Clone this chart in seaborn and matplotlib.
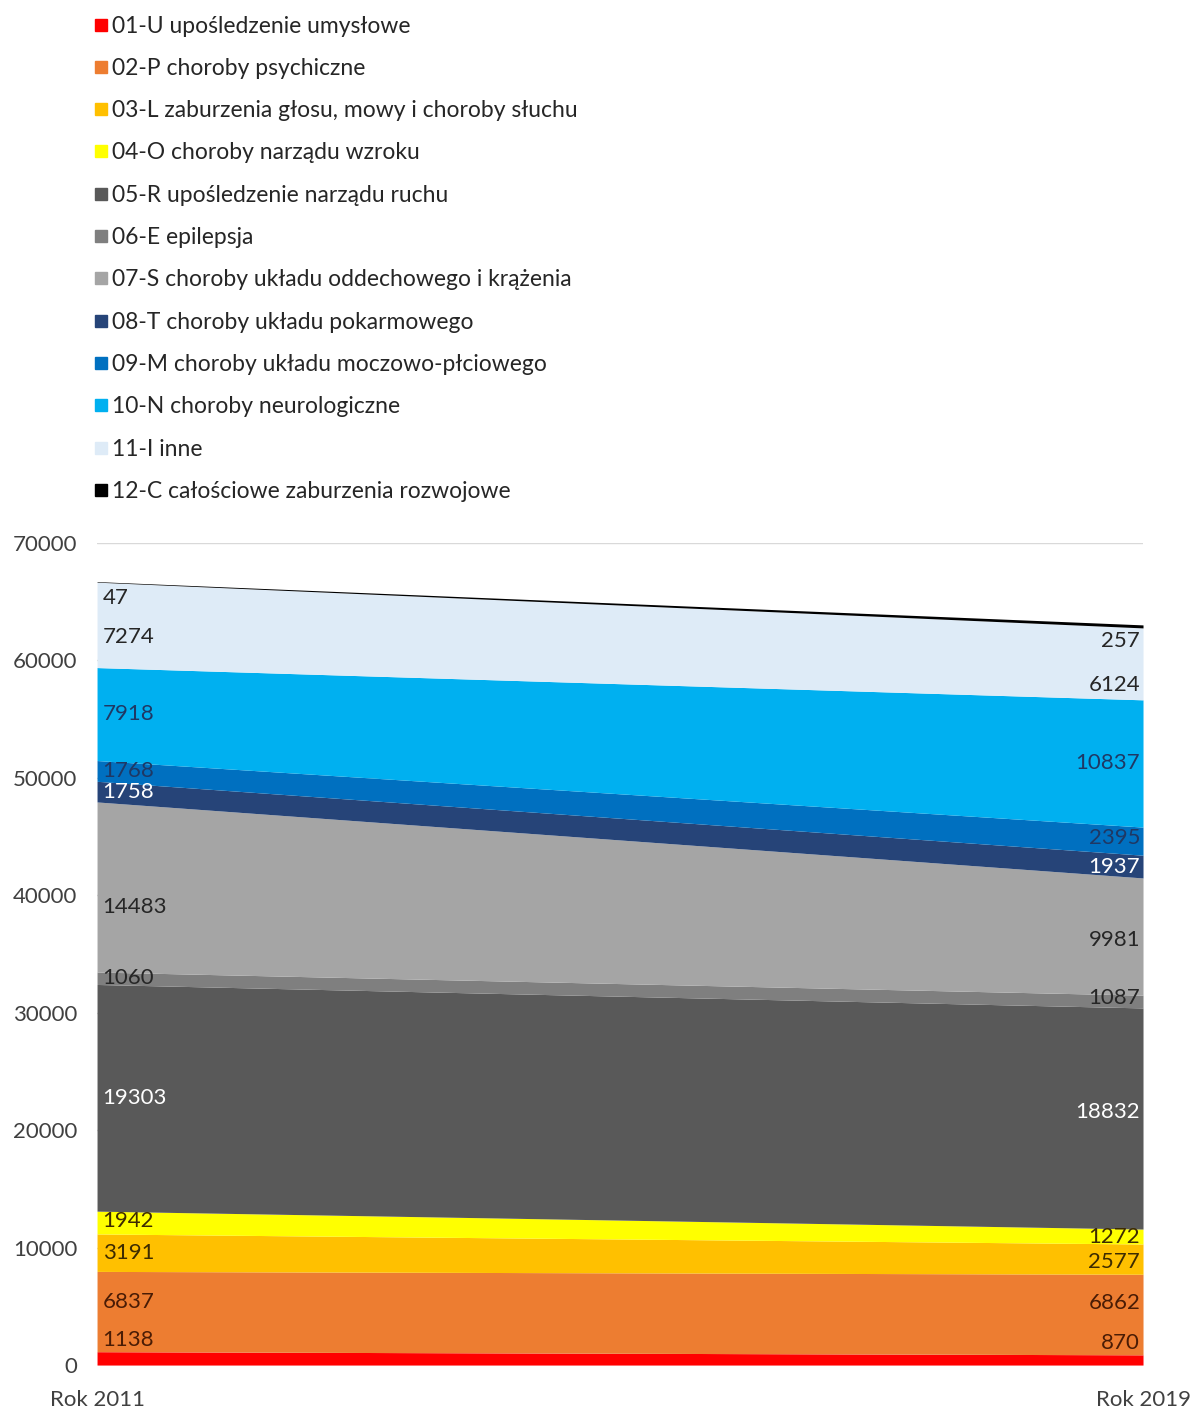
import numpy as np
import pandas as pd
import seaborn as sns
import matplotlib.pyplot as plt
from matplotlib.lines import Line2D

# dane: liczba orzeczeń wg przyczyny niepełnosprawności
years = ['Rok 2011', 'Rok 2019']
categories = [
    '01-U upośledzenie umysłowe',
    '02-P choroby psychiczne',
    '03-L zaburzenia głosu, mowy i choroby słuchu',
    '04-O choroby narządu wzroku',
    '05-R upośledzenie narządu ruchu',
    '06-E epilepsja',
    '07-S choroby układu oddechowego i krążenia',
    '08-T choroby układu pokarmowego',
    '09-M choroby układu moczowo-płciowego',
    '10-N choroby neurologiczne',
    '11-I inne',
    '12-C całościowe zaburzenia rozwojowe',
]
values_2011 = [1138, 6837, 3191, 1942, 19303, 1060, 14483, 1758, 1768, 7918, 7274, 47]
values_2019 = [870, 6862, 2577, 1272, 18832, 1087, 9981, 1937, 2395, 10837, 6124, 257]

colors = ['#FF0000', '#ED7D31', '#FFC000', '#FFFF00', '#595959', '#7F7F7F',
          '#A5A5A5', '#264478', '#0070C0', '#00B0F0', '#DEEBF7', '#000000']
label_colors = ['#4A1C05', '#4A1C05', '#3D2B00', '#3D2B00', 'white', '#262626',
                '#262626', 'white', '#1F3864', '#1F3864', '#262626', '#262626']
# przesunięcia etykiet w pikselach (pion)
off_left = [18, 10, 0, 2, 0, 0, -20, 0, 0, 0, -12, -16]
off_right = [17, 12, -3, 0, 6, 4, -3, 0, 3, 0, -21, -15]

df = pd.DataFrame({'kategoria': categories, years[0]: values_2011, years[1]: values_2019})

sns.set_theme(style='white')
plt.rcParams['font.family'] = ['Lato', 'DejaVu Sans']

fig = plt.figure(figsize=(11.95, 14.08), dpi=100)
ax = fig.add_axes([0.0812, 0.0305, 0.8753, 0.5838])

x = np.arange(len(years))
ys = df[years].to_numpy()
ax.stackplot(x, ys, colors=colors, linewidth=0)

ax.set_xlim(0, 1)
ax.set_ylim(0, 70000)
ax.set_yticks(np.arange(0, 70001, 10000))
ax.set_xticks(x)
ax.set_xticklabels(years)
ax.tick_params(axis='both', length=0, labelsize=16, colors='#404040')
ax.tick_params(axis='y', pad=14)
ax.tick_params(axis='x', pad=18)
ax.yaxis.grid(True, color='#D9D9D9', linewidth=1)
ax.set_axisbelow(True)
for s in ax.spines.values():
    s.set_visible(False)

# etykiety danych
cum = np.cumsum(ys, axis=0)
mids = cum - ys / 2
for i in range(len(categories)):
    ax.annotate(str(ys[i, 0]), (0, mids[i, 0]), xytext=(4, off_left[i] * 0.72),
                textcoords='offset points', ha='left', va='center',
                fontsize=16, color=label_colors[i])
    ax.annotate(str(ys[i, 1]), (1, mids[i, 1]), xytext=(-2, off_right[i] * 0.72),
                textcoords='offset points', ha='right', va='center',
                fontsize=16, color=label_colors[i])

# legenda
handles = [Line2D([], [], marker='s', linestyle='none', markersize=8,
                  markerfacecolor=c, markeredgecolor=c) for c in colors]
fig.legend(handles, categories, loc='upper left', bbox_to_anchor=(0.060, 1.0036),
           frameon=False, fontsize=16.5, labelspacing=0.93, handletextpad=0.05,
           handlelength=0.8, labelcolor='#262626')

fig.savefig('out.png', dpi=100)
